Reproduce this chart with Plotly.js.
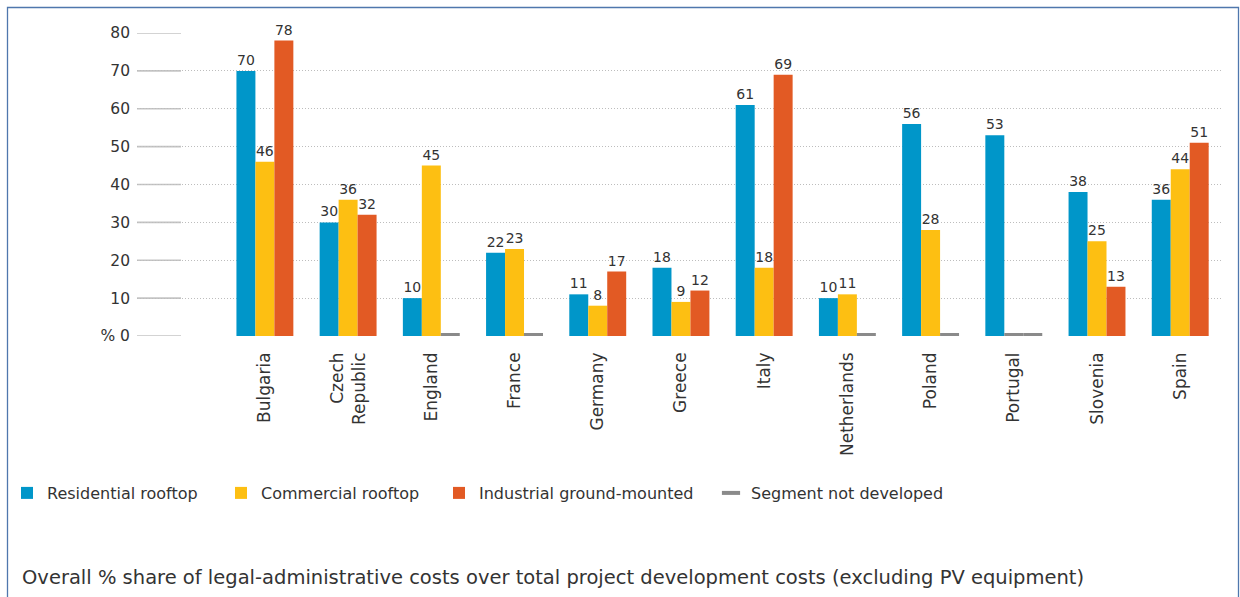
<!DOCTYPE html>
<html>
<head>
<meta charset="utf-8">
<script src="https://cdn.plot.ly/plotly-3.0.1.min.js"></script>
<style>
  html, body { margin: 0; padding: 0; background: #ffffff; }
  #chart { width: 1240px; height: 597px; }
</style>
</head>
<body>
<div id="chart"></div>
<script>
// Countries and their axis labels
const countries = ['Bulgaria', 'Czech Republic', 'England', 'France', 'Germany', 'Greece',
  'Italy', 'Netherlands', 'Poland', 'Portugal', 'Slovenia', 'Spain'];
const countryLabels = ['Bulgaria', 'Czech<br>Republic', 'England', 'France', 'Germany', 'Greece',
  'Italy', 'Netherlands', 'Poland', 'Portugal', 'Slovenia', 'Spain'];

// % share of legal-administrative costs per segment (null = segment not developed)
const residential = [70, 30, 10, 22, 11, 18, 61, 10, 56, 53, 38, 36];
const commercial  = [46, 36, 45, 23, 8, 9, 18, 11, 28, null, 25, 44];
const industrial  = [78, 32, null, null, 17, 12, 69, null, null, null, 13, 51];

// Height of the small grey stub that marks an undeveloped segment
const notDevelopedStub = 0.8;

// Y axis ticks
const yTickVals = [0, 10, 20, 30, 40, 50, 60, 70, 80];
const yTickText = ['% 0', '10', '20', '30', '40', '50', '60', '70', '80'];

const seriesNames = ['Residential rooftop', 'Commercial rooftop', 'Industrial ground-mounted', 'Segment not developed'];
const caption = 'Overall % share of legal-administrative costs over total project development costs (excluding PV equipment)';

// ---- layout geometry (page pixels) ----
const W = 1240, H = 597;
const M = { l: 137, r: 19, t: 33, b: 261 };
const plotW = W - M.l - M.r, plotH = H - M.t - M.b;
const px = x => (x - M.l) / plotW;          // page x -> paper x
const py = y => (H - M.b - y) / plotH;      // page y -> paper y

const COLORS = { res: '#0096c9', com: '#fdbf12', ind: '#e25a24', nd: '#8a8a8a' };
const TEXT = '#333333';
const FONT = 'DejaVu Sans, Arial, sans-serif';

// slot geometry inside each category
const barW = 0.228;
const slotOffset = [-1.5 * barW, -0.5 * barW, 0.5 * barW];

function barTrace(name, values, color, slot, legendId) {
  return {
    type: 'bar',
    name: name,
    x: countries,
    y: values,
    width: barW,
    offset: slotOffset[slot],
    marker: { color: color, line: { width: 0 } },
    text: values.map(v => (v === null ? '' : String(v))),
    textposition: 'outside',
    textfont: { family: FONT, size: 14, color: TEXT },
    constraintext: 'none',
    cliponaxis: false,
    hoverinfo: 'x+y+name',
    legend: legendId
  };
}

// grey stubs in the slot of any undeveloped segment
function stubTrace(values, slot) {
  return {
    type: 'bar',
    name: seriesNames[3],
    x: countries,
    y: values.map(v => (v === null ? notDevelopedStub : null)),
    width: barW,
    offset: slotOffset[slot],
    marker: { color: COLORS.nd, line: { width: 0 } },
    hoverinfo: 'x+name',
    showlegend: false,
    legend: 'legend4'
  };
}

const traces = [
  barTrace(seriesNames[0], residential, COLORS.res, 0, 'legend'),
  barTrace(seriesNames[1], commercial, COLORS.com, 1, 'legend2'),
  barTrace(seriesNames[2], industrial, COLORS.ind, 2, 'legend3'),
  stubTrace(commercial, 1),
  stubTrace(industrial, 2),
  // legend entry for the grey stub
  {
    type: 'scatter', mode: 'markers', name: seriesNames[3],
    x: [null], y: [null],
    marker: { symbol: 'line-ew', size: 13, color: COLORS.nd, line: { width: 4, color: COLORS.nd } },
    legend: 'legend4', hoverinfo: 'skip'
  }
];

// legends are placed against the page so they never push the margins
function legendAt(xPix) {
  return {
    x: xPix / W, y: 1 - 493 / H, xref: 'container', yref: 'container',
    xanchor: 'left', yanchor: 'middle', orientation: 'h',
    bgcolor: 'rgba(0,0,0,0)', borderwidth: 0,
    font: { family: FONT, size: 16, color: TEXT },
    itemwidth: 30
  };
}

// solid lead-in segments at the left end of each gridline
const gridLeads = yTickVals.map(v => ({
  type: 'line', xref: 'paper', yref: 'y', x0: 0, x1: px(181), y0: v, y1: v,
  line: { color: '#c4c4c4', width: 1.6 }, layer: 'below'
}));

// frame around the figure
const frame = {
  type: 'path', xref: 'paper', yref: 'paper',
  path: `M ${px(7.5)} ${py(640)} L ${px(7.5)} ${py(7.5)} L ${px(1238.5)} ${py(7.5)} L ${px(1238.5)} ${py(640)}`,
  line: { color: '#4f77ad', width: 1.3 }
};

const layout = {
  width: W, height: H,
  margin: M,
  paper_bgcolor: '#ffffff', plot_bgcolor: '#ffffff',
  barmode: 'overlay',
  showlegend: true,
  font: { family: FONT, color: TEXT },
  xaxis: {
    type: 'category',
    range: [-1.537, 11.49],
    tickvals: countries,
    ticktext: countryLabels,
    tickangle: -90,
    tickfont: { family: FONT, size: 17, color: TEXT },
    ticks: '', showgrid: false, zeroline: false, showline: false,
    ticklabelstandoff: 12,
    automargin: false,
    fixedrange: true
  },
  yaxis: {
    range: [0, 80],
    tickvals: yTickVals,
    ticktext: yTickText,
    tickfont: { family: FONT, size: 15.5, color: TEXT },
    ticks: '', showline: false, zeroline: false,
    showgrid: true, gridcolor: '#bdbdbd', gridwidth: 1, griddash: '1px,2px',
    ticklabelstandoff: 6,
    automargin: false,
    fixedrange: true
  },
  legend: legendAt(7),
  legend2: legendAt(221),
  legend3: legendAt(439),
  legend4: legendAt(711),
  shapes: [...gridLeads, frame],
  annotations: [{
    text: caption, xref: 'paper', yref: 'paper',
    x: px(20), y: py(577), xanchor: 'left', yanchor: 'middle',
    showarrow: false, align: 'left',
    font: { family: FONT, size: 19.5, color: TEXT }
  }]
};

Plotly.newPlot('chart', traces, layout, { displayModeBar: false, staticPlot: true });
</script>
</body>
</html>
